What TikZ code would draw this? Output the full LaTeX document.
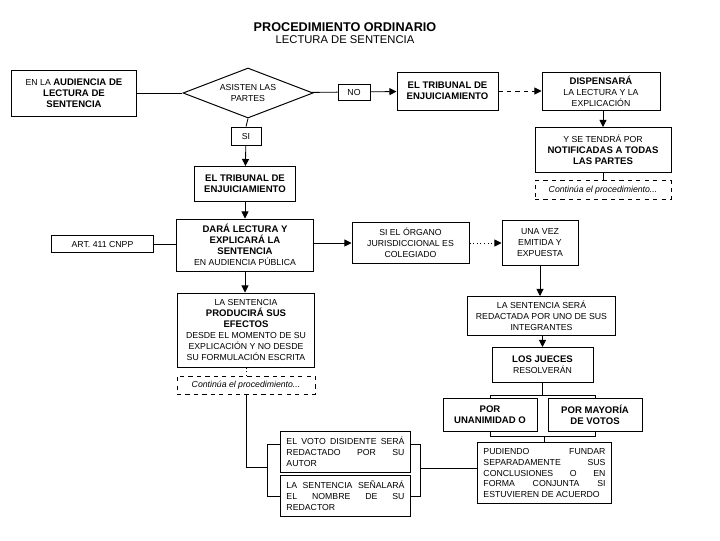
\documentclass[tikz,border=0pt]{standalone}
\usepackage{fontspec}
\setmainfont{Liberation Sans}
\usepackage{tikz}
\usetikzlibrary{arrows.meta, positioning, calc, shapes.geometric}
\newcommand\hb[1]{{\fontsize{6.8}{7.8}\selectfont\bfseries #1}}

\begin{document}
\begin{tikzpicture}[
    x=0.025cm, y=-0.025cm,
    font=\fontsize{6.2}{7.8}\selectfont,
    box/.style={draw, line width=0.7pt, align=center, inner sep=1pt,
                minimum width=#1},
    jbox/.style={draw, line width=0.7pt, align=justify, inner sep=4pt,
                 text width=#1},
    dbox/.style={draw, dashed, line width=0.6pt, align=center,
                 minimum width=#1, font=\fontsize{6.2}{7.8}\selectfont\itshape},
    link/.style={line width=0.6pt},
    arr/.style={link, -{Triangle[length=5pt, width=5pt]}},
  ]
    \useasboundingbox (0,0) rectangle (720,540);

    % titulo
    \node[font=\fontsize{9}{10}\selectfont\bfseries] (titulo) at (345,27)
      {PROCEDIMIENTO ORDINARIO};
    \node[font=\fontsize{8}{9}\selectfont] (subtitulo) at (345,40)
      {LECTURA DE SENTENCIA};

    % fila superior
    \node[box=3.1cm, minimum height=1.15cm] (aud) at (74,93)
      {EN LA \hb{AUDIENCIA DE}\\\hb{LECTURA DE}\\\hb{SENTENCIA}};
    \node[draw, line width=0.7pt, diamond, aspect=2.6, inner sep=0pt,
          minimum width=3.25cm, minimum height=1.25cm, align=center]
      (asis) at (248,93) {ASISTEN LAS\\PARTES};
    \node[box=0.8cm, minimum height=0.4cm] (no) at (354,92) {NO};
    \node[box=2.525cm, minimum height=0.95cm] (trib1) at (447.5,91)
      {\hb{EL TRIBUNAL DE}\\\hb{ENJUICIAMIENTO}};
    \node[box=2.95cm, minimum height=0.95cm] (disp) at (601,91)
      {\hb{DISPENSARÁ}\\LA LECTURA Y LA\\EXPLICACIÓN};
    \node[box=3.4cm, minimum height=1.125cm] (noti) at (603,150)
      {Y SE TENDRÁ POR\\\hb{NOTIFICADAS A TODAS}\\\hb{LAS PARTES}};
    \node[dbox=3.4cm, minimum height=0.475cm] (cont1) at (603,190)
      {Continúa el procedimiento...};

    % rama del si
    \node[box=0.75cm, minimum height=0.45cm] (si) at (246,136) {SI};
    \node[box=2.525cm, minimum height=0.875cm] (trib2) at (245,184)
      {\hb{EL TRIBUNAL DE}\\\hb{ENJUICIAMIENTO}};
    \node[box=3.4cm, minimum height=1.3cm] (dara) at (245,245)
      {\hb{DARÁ LECTURA Y}\\\hb{EXPLICARÁ LA}\\\hb{SENTENCIA}\\EN AUDIENCIA PÚBLICA};
    \node[box=2.525cm, minimum height=0.425cm] (art) at (102.5,244)
      {ART. 411 CNPP};
    \node[box=3.425cm, minimum height=1.85cm] (efec) at (246,330)
      {LA SENTENCIA\\\hb{PRODUCIRÁ SUS}\\\hb{EFECTOS}\\DESDE EL MOMENTO DE SU\\EXPLICACIÓN Y NO DESDE\\SU FORMULACIÓN ESCRITA};
    \node[dbox=3.45cm, minimum height=0.45cm] (cont2) at (246,385)
      {Continúa el procedimiento...};

    % organo colegiado
    \node[box=2.925cm, minimum height=1.025cm] (colg) at (410.5,243)
      {SI EL ÓRGANO\\JURISDICCIONAL ES\\COLEGIADO};
    \node[box=1.9cm, minimum height=1.125cm] (emit) at (540,243)
      {UNA VEZ\\EMITIDA Y\\EXPUESTA};
    \node[box=3.675cm, minimum height=0.975cm] (redac) at (541.5,316)
      {LA SENTENCIA SERÁ\\REDACTADA POR UNO DE SUS\\INTEGRANTES};
    \node[box=2.525cm, minimum height=0.875cm] (jue) at (542.5,365)
      {\hb{LOS JUECES}\\RESOLVERÁN};
    \node[box=2.35cm, minimum height=0.825cm] (unan) at (490,415)
      {\hb{POR}\\\hb{UNANIMIDAD O}};
    \node[box=2.35cm, minimum height=0.825cm] (mayo) at (595,415)
      {\hb{POR MAYORÍA}\\\hb{DE VOTOS}};
    \node[jbox=3.05cm, minimum height=1.425cm] (fund) at (544.5,473)
      {PUDIENDO FUNDAR\linebreak SEPARADAMENTE SUS\linebreak CONCLUSIONES O EN\linebreak FORMA CONJUNTA SI\linebreak ESTUVIEREN DE ACUERDO};
    \node[jbox=2.95cm, minimum height=1.0cm] (voto) at (345.5,452)
      {EL VOTO DISIDENTE SERÁ\linebreak REDACTADO POR SU\linebreak AUTOR};
    \node[jbox=2.95cm, minimum height=0.95cm] (senal) at (345.5,496)
      {LA SENTENCIA SEÑALARÁ\linebreak EL NOMBRE DE SU\linebreak REDACTOR};

    % conectores
    \draw[link] (aud) -- (asis);
    \draw[link] (asis) -- (no);
    \draw[arr] (no) -- (trib1);
    \draw[arr, dashed] (trib1) -- (disp);
    \draw[arr] (disp.south -| noti.north) -- (noti.north);
    \draw[link] (noti) -- (cont1);
    \draw[link] (asis.south) -- (si.north);
    \draw[arr] (si) -- (trib2);
    \draw[arr] (trib2) -- (dara);
    \draw[link] (art) -- (art -| dara.west);
    \draw[arr] (dara.east |- colg) -- (colg);
    \draw[arr, dotted] (colg) -- (emit);
    \draw[arr] (emit.south) -- (emit.south |- redac.north);
    \draw[arr] (redac.south -| jue.north) -- (jue.north);
    \draw[arr] (dara.south) -- (dara.south |- efec.north);
    \draw[link, dotted] (efec.south) -- (efec.south |- cont2.north);

    % llaves de votacion
    \coordinate (tbar) at (542.5,395);
    \coordinate (bbar) at (544.5,436);
    \draw[link] (jue) -- (tbar);
    \draw[link] (unan.north) |- (tbar) -| (mayo.north);
    \draw[link] (unan.south) |- (bbar) -| (mayo.south);
    \draw[link] (bbar) -- (fund.north);

    \draw[link] ($(voto.west)+(0,-8)$) -- ++(-13,0) coordinate (lt) |- (senal.west);
    \draw[link] ($(voto.east)+(0,-8)$) -- ++(10,0) coordinate (rt) |- (senal.east);
    \draw[link] ($(fund.west)+(0,-5)$) -- ($(fund.west -| rt)+(0,-5)$);
    \draw[link] (cont2.south) |- ($(lt)+(0,23)$);
\end{tikzpicture}
\end{document}
